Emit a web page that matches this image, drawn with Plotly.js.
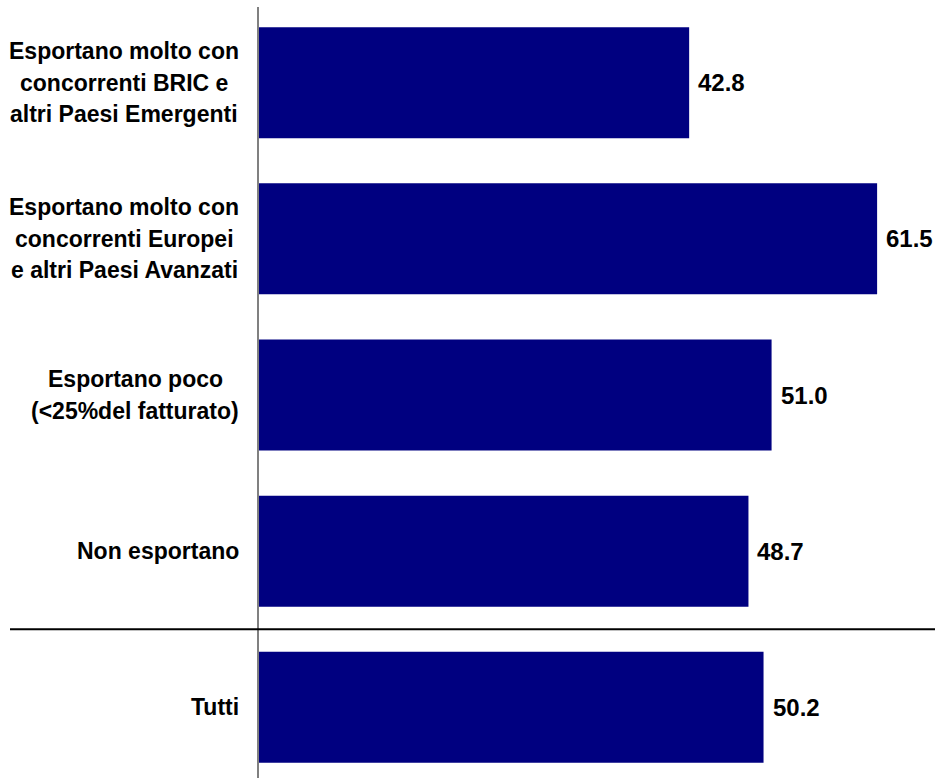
<!DOCTYPE html>
<html>
<head>
<meta charset="utf-8">
<script src="https://cdn.plot.ly/plotly-3.0.1.min.js"></script>
<style>
html,body{margin:0;padding:0;background:#fff;}
#chart{width:935px;height:778px;}
</style>
</head>
<body>
<div id="chart"></div>
<script>
// Data
var categoryLines = [
  ["Esportano molto con", "concorrenti BRIC e", "altri Paesi Emergenti"],
  ["Esportano molto con", "concorrenti Europei", "e altri Paesi Avanzati"],
  ["Esportano poco", "(<25%del fatturato)"],
  ["Non esportano"],
  ["Tutti"]
];
var values = [42.8, 61.5, 51.0, 48.7, 50.2];
var valueLabels = ["42.8", "61.5", "51.0", "48.7", "50.2"];

var categories = categoryLines.map(function(l){ return l.join(" "); });

var LABEL_FONT = 'Liberation Sans, Arial, sans-serif';
var labelSize = 23;
var lineGap = 31.5;
var labelRight = 239;  // px right edge of label block
var plotLeft = 259;

var ctx = document.createElement('canvas').getContext('2d');
ctx.font = 'bold ' + labelSize + 'px "Liberation Sans"';

var annotations = [];
categoryLines.forEach(function(lines, ci){
  var maxW = 0;
  lines.forEach(function(t){ maxW = Math.max(maxW, ctx.measureText(t).width); });
  var center = labelRight - maxW/2;
  var n = lines.length;
  lines.forEach(function(t, i){
    annotations.push({
      xref: 'paper', x: 0, yref: 'y', y: categories[ci],
      xanchor: 'center', yanchor: 'middle',
      xshift: center - plotLeft,
      yshift: ((n-1)/2 - i) * lineGap,
      text: '<b>' + t.replace(/</g,'&lt;') + '</b>',
      showarrow: false,
      font: {family: LABEL_FONT, size: labelSize, color: '#000'}
    });
  });
});
values.forEach(function(v, i){
  annotations.push({
    xref: 'x', x: v, yref: 'y', y: categories[i],
    xanchor: 'left', yanchor: 'middle', xshift: 7,
    text: '<b>' + valueLabels[i] + '</b>',
    showarrow: false,
    font: {family: LABEL_FONT, size: 24, color: '#000'}
  });
});

var trace = {
  type: 'bar', orientation: 'h',
  x: values, y: categories,
  marker: {color: '#000080', line: {width: 0}},
  width: 0.711,
  hoverinfo: 'none'
};

var layout = {
  width: 935, height: 778,
  margin: {l: 259, r: 0, t: 7, b: 0, pad: 0},
  paper_bgcolor: '#fff', plot_bgcolor: '#fff',
  showlegend: false,
  xaxis: {range: [0, 67.26], showgrid: false, zeroline: false, showticklabels: false, ticks: '', showline: false},
  yaxis: {type: 'category', categoryorder: 'array', categoryarray: categories,
          range: [4.453, -0.485], showgrid: false, zeroline: false,
          showticklabels: false, ticks: '', showline: true, linecolor: '#808080', linewidth: 2},
  shapes: [{type: 'line', xref: 'paper', x0: (10 - plotLeft)/676, x1: 1, yref: 'y', y0: 3.5, y1: 3.5,
            line: {color: '#000', width: 2}, layer: 'above'}],
  annotations: annotations
};

Plotly.newPlot('chart', [trace], layout, {staticPlot: true, displayModeBar: false});
</script>
</body>
</html>
